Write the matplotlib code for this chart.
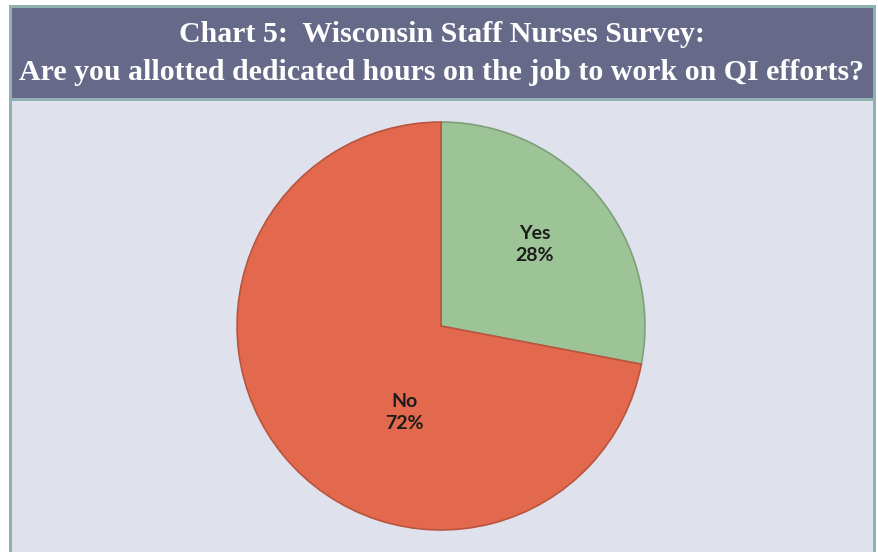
import numpy as np
import matplotlib
matplotlib.use("Agg")
import matplotlib.pyplot as plt
from matplotlib.patches import Rectangle

# ───────── data ─────────
labels = ["Yes", "No"]
shares = [28, 72]
colors = ["#9dc497", "#e2694e"]
edges = ["#7f9f7a", "#b9543e"]
# label placement (radius fraction, angle in degrees) as in the original chart
label_r = [0.61, 0.46]
label_ang = [41, 247]

title_1 = "Chart 5:  Wisconsin Staff Nurses Survey:"
title_2 = "Are you allotted dedicated hours on the job to work on QI efforts?"

W, H = 879, 552
fig = plt.figure(figsize=(W / 100, H / 100), dpi=100, facecolor="white")

def px_rect(x0, y0, x1, y1, color):
    # rectangle given in pixel coords measured from the top-left corner
    fig.patches.append(Rectangle((x0 / W, 1 - y1 / H), (x1 - x0) / W, (y1 - y0) / H,
                                 transform=fig.transFigure, facecolor=color,
                                 edgecolor="none", zorder=-5))

# ───────── frame, title band, panel ─────────
px_rect(9, 5, 876, H, "#8fb1b1")
px_rect(12, 8, 873, 98, "#666a88")
px_rect(12, 101, 873, H, "#dfe2ec")

fig.text(442 / W, 1 - 35 / H, title_1, ha="center", va="center", color="white",
         fontsize=21.5, fontweight="bold", family="Liberation Serif")
fig.text(442 / W, 1 - 72 / H, title_2, ha="center", va="center", color="white",
         fontsize=21.5, fontweight="bold", family="Liberation Serif")

# ───────── pie ─────────
cx, cy, r = 441, 326, 206
ax = fig.add_axes([(cx - r) / W, 1 - (cy + r) / H, 2 * r / W, 2 * r / H])
ax.set_zorder(5)
ax.set_facecolor("none")
wedges, _ = ax.pie(shares, colors=colors, startangle=90, counterclock=False,
                   radius=1.0, wedgeprops=dict(linewidth=1.2))
for w, ec in zip(wedges, edges):
    w.set_edgecolor(ec)
ax.set_xlim(-1.01, 1.01)
ax.set_ylim(-1.01, 1.01)
ax.set_aspect("equal")
ax.axis("off")

for lab, val, rr, ang in zip(labels, shares, label_r, label_ang):
    a = np.deg2rad(ang)
    ax.text(rr * np.cos(a), rr * np.sin(a), f"{lab}\n{val}%", ha="center", va="center",
            fontsize=14, fontweight="bold", family="Lato", color="#1c1c1c",
            linespacing=1.4)

fig.savefig("out.png", dpi=100, facecolor="white")
